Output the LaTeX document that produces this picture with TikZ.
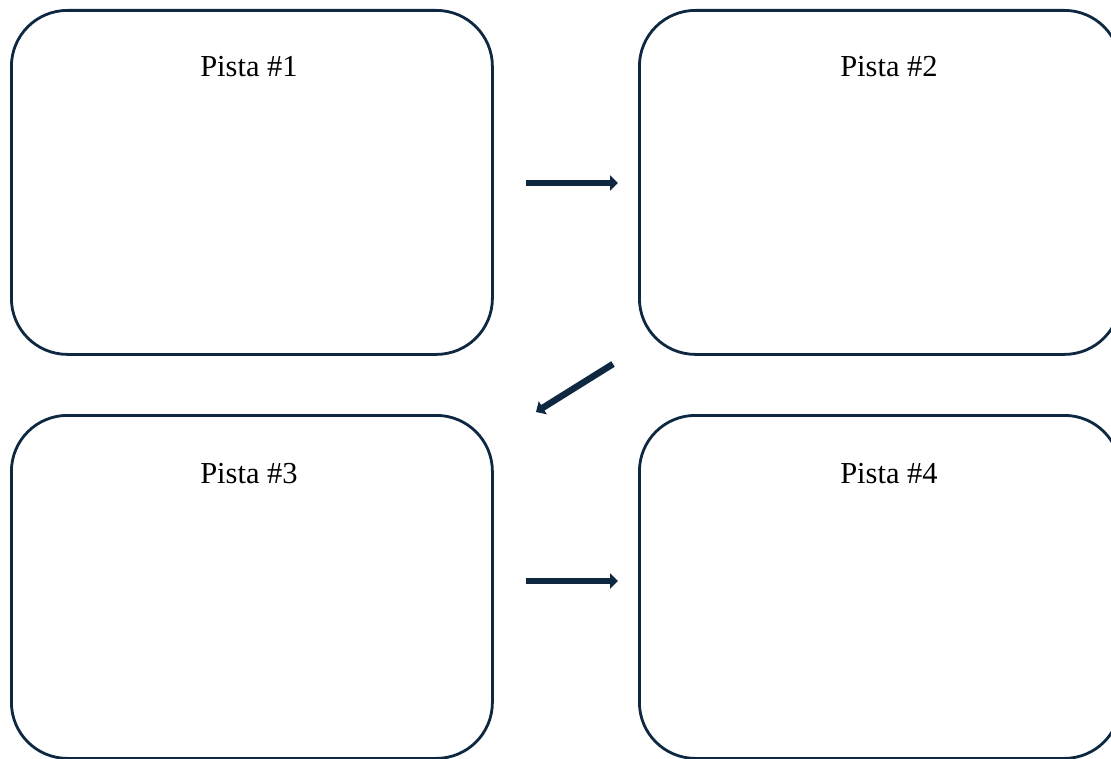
\documentclass[tikz,border=0pt]{standalone}
\usepackage{fontspec}
\setmainfont{Liberation Serif}
\usetikzlibrary{arrows.meta}
\definecolor{navy}{HTML}{0E2841}
\begin{document}
\begin{tikzpicture}[x=1pt,y=-1pt,
  card/.style={draw=navy, line width=2.8pt, rounded corners=56pt, minimum width=481pt, minimum height=344pt, inner sep=0pt, anchor=north west},
  title/.style={font=\fontsize{30.5}{36}\selectfont, anchor=base, inner sep=0pt},
  flow/.style={draw=navy, line width=6.5pt, -{Triangle[length=8pt,width=15pt]}}]
\useasboundingbox (0,0) rectangle (1111,759);
\clip (0,0) rectangle (1111,759);
\node[card] (b1) at (10,9) {};
\node[card] (b2) at (638,9) {};
\node[card, minimum height=343pt] (b3) at (10,414) {};
\node[card, minimum height=343pt] (b4) at (638,414) {};
\node[title] (t1) at (249,77) {Pista \#1};
\node[title] (t2) at (889,77) {Pista \#2};
\node[title] (t3) at (249,483) {Pista \#3};
\node[title] (t4) at (889,483) {Pista \#4};
\coordinate (a1s) at (526,183);
\coordinate (a1e) at (618,183);
\coordinate (a2s) at (613,364);
\coordinate (a2e) at (536,412);
\coordinate (a3s) at (526,581);
\coordinate (a3e) at (618,581);
\draw[flow] (a1s) -- (a1e);
\draw[flow] (a2s) -- (a2e);
\draw[flow] (a3s) -- (a3e);
\end{tikzpicture}
\end{document}
